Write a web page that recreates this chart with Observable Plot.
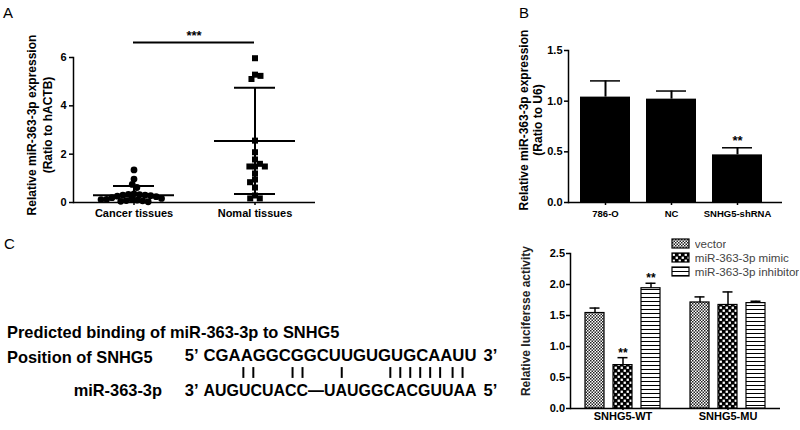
<!DOCTYPE html>
<html><head><meta charset="utf-8">
<script src="https://cdn.jsdelivr.net/npm/d3@7"></script>
<script src="https://cdn.jsdelivr.net/npm/@observablehq/plot@0.6"></script>
<style>
html,body{margin:0;padding:0;background:#fff;}
#root{position:relative;width:800px;height:430px;overflow:hidden;font-family:"Liberation Sans",Arial,sans-serif;color:#000;background:#fff;}
.abs{position:absolute;}
.abs svg{display:block;}
.plbl{position:absolute;font-size:15px;line-height:1;}
.ytitle{position:absolute;font-size:12px;font-weight:bold;white-space:nowrap;text-align:center;transform:translate(-50%,-50%) rotate(-90deg);}
.seqlbl{position:absolute;font-size:16.4px;font-weight:bold;line-height:1;white-space:nowrap;}
#legC, #legC *{font-family:"Liberation Sans",Arial,sans-serif !important;font-size:11.6px !important;color:#444;}
#legC svg rect{stroke:#000;stroke-width:1.2;}
#root svg g[aria-label$="tick"]{stroke-width:1.5;}
#root svg [aria-label="frame"]{stroke-width:1.5;}
</style></head>
<body>
<svg width="0" height="0" style="position:absolute">
  <defs>
    <pattern id="pat-vector" patternUnits="userSpaceOnUse" width="3" height="3">
      <rect width="3" height="3" fill="#fff"/>
      <rect width="1.5" height="1.5" fill="#222"/>
      <rect x="1.5" y="1.5" width="1.5" height="1.5" fill="#222"/>
    </pattern>
    <pattern id="pat-mimic" patternUnits="userSpaceOnUse" width="6" height="6">
      <rect width="6" height="6" fill="#000"/>
      <rect x="0.6" y="0.6" width="2.3" height="2.3" fill="#fff"/>
      <rect x="3.6" y="3.6" width="2.3" height="2.3" fill="#fff"/>
    </pattern>
    <pattern id="pat-inhibitor" patternUnits="userSpaceOnUse" width="4" height="4">
      <rect width="4" height="4" fill="#fff"/>
      <rect width="4" height="1" fill="#000"/>
    </pattern>
  </defs>
</svg>
<div id="root">
  <div class="plbl" style="left:3px;top:5px;">A</div>
  <div class="plbl" style="left:519px;top:5px;">B</div>
  <div class="plbl" style="left:4px;top:236px;">C</div>

  <div class="ytitle" style="left:40px;top:125px;line-height:16px;">Relative miR-363-3p expression<br>(Ratio to hACTB)</div>
  <div class="ytitle" style="left:531px;top:120px;line-height:14px;">Relative miR-363-3p expression<br>(Ratio to U6)</div>
  <div class="ytitle" style="left:526px;top:321px;line-height:14px;color:#222;">Relative lucifersse activity</div>

  <div class="seqlbl" style="left:7px;top:324px;">Predicted binding of miR-363-3p to SNHG5</div>
  <div class="seqlbl" style="left:7px;top:349px;">Position of SNHG5</div>
  <div class="seqlbl" style="right:638px;top:382px;">miR-363-3p</div>

  <div id="pA" class="abs" style="left:0;top:0;"></div>
  <div id="pAsig" class="abs" style="left:0;top:0;pointer-events:none;"></div>
  <div id="pB" class="abs" style="left:515px;top:30px;"></div>
  <div id="pC" class="abs" style="left:515px;top:225px;"></div>
  <div id="legC" class="abs" style="left:672px;top:237px;width:200px;"></div>
  <div id="pSeq" class="abs" style="left:0;top:320px;"></div>
</div>
<script>
// ---------- Panel A data ----------
const groupsA = ["Cancer tissues", "Nomal tissues"];
const cancerValues = [1.35, 0.97, 0.75, 0.62, 0.36, 0.34, 0.32, 0.30, 0.30, 0.28, 0.26, 0.24, 0.20, 0.17, 0.15, 0.13, 0.12, 0.10, 0.08, 0.07, 0.05, 0.03];
const normalValues = [5.97, 5.29, 5.11, 5.24, 2.56, 2.08, 1.78, 1.49, 1.49, 1.60, 1.49, 1.20, 0.95, 0.84, 0.62, 0.29, 0.17, 0.17];
const meansA = [0.30, 2.55];
const sdsA = [0.38, 2.20];
const yTicksA = [0, 2, 4, 6];
const sigA = {from: "Cancer tissues", to: "Nomal tissues", y: 6.62, label: "***"};

// ---------- Panel B data ----------
const catsB = ["786-O", "NC", "SNHG5-shRNA"];
const valuesB = [1.04, 1.02, 0.47];
const upperB = [1.20, 1.10, 0.54];
const sigB = ["", "", "**"];
const yTicksB = [0, 0.5, 1.0, 1.5];

// ---------- Panel C data ----------
const constructsC = ["SNHG5-WT", "SNHG5-MU"];
const treatmentsC = ["vector", "miR-363-3p mimic", "miR-363-3p inhibitor"];
const valuesWT = [1.54, 0.70, 1.94];
const upperWT = [1.62, 0.82, 2.02];
const sigWT = ["", "**", "**"];
const valuesMU = [1.71, 1.67, 1.70];
const upperMU = [1.80, 1.88, 1.73];
const sigMU = ["", "", ""];
const yTicksC = [0, 0.5, 1.0, 1.5, 2.0, 2.5];
const patternsC = ["url(#pat-vector)", "url(#pat-mimic)", "url(#pat-inhibitor)"];

// ---------- Sequence panel data ----------
const topSeq = "CGAAGGCGGCUUGUGUGCAAUU";
const bottomSeq = "AUGUCUACC\u2014UAUGGCACGUUAA";
const seqSlots = 22;
const pairPositions = [3.2, 4.0, 7.15, 7.95, 11.1, 15.0, 15.8, 16.6, 17.4, 18.2, 19.0, 20.0, 20.8];

const FONT = '"Liberation Sans", Arial, sans-serif';
const baseStyle = {fontFamily: FONT, fontSize: "11px", fontWeight: "bold", background: "none", overflow: "visible", color: "#000"};

// ---------- Panel A ----------
const pointsA = [
  ...cancerValues.map(v => ({group: groupsA[0], value: v})),
  ...normalValues.map(v => ({group: groupsA[1], value: v}))
];
const statsA = groupsA.map((g, i) => ({group: g, mean: meansA[i], upper: meansA[i] + sdsA[i], lower: meansA[i] - sdsA[i]}));

const plotA = Plot.plot({
  width: 330, height: 225,
  marginLeft: 72, marginRight: 15, marginTop: 57, marginBottom: 23,
  style: baseStyle,
  fx: {domain: groupsA, padding: 0, label: null, axis: "bottom", tickSize: 3, tickPadding: 4},
  y: {domain: [0, 6], ticks: yTicksA, tickFormat: d3.format("d"), tickSize: 4, tickPadding: 3, label: null, line: true},
  symbol: {domain: groupsA, range: ["circle", "square"]},
  marks: [
    Plot.ruleY([0], {strokeWidth: 1.5}),
    Plot.dot(pointsA, Plot.dodgeX({anchor: "middle", padding: -1.2}, {fx: "group", y: "value", r: 3.4, symbol: "group", fill: "#000"})),
    Plot.tickY(statsA, {fx: "group", y: "mean", insetLeft: 20, insetRight: 20, strokeWidth: 2}),
    Plot.tickY(statsA, {fx: "group", y: "upper", insetLeft: 40, insetRight: 40, strokeWidth: 2}),
    Plot.tickY(statsA.filter(d => d.lower > 0), {fx: "group", y: "lower", insetLeft: 40, insetRight: 40, strokeWidth: 2}),
    Plot.ruleX(statsA, {fx: "group", x: null, y1: d => Math.max(0, d.lower), y2: "upper", strokeWidth: 2})
  ]
});
document.getElementById("pA").appendChild(plotA);

const plotAsig = Plot.plot({
  width: 330, height: 225,
  marginLeft: 72, marginRight: 15, marginTop: 57, marginBottom: 23,
  style: baseStyle,
  x: {type: "point", domain: groupsA, padding: 0.5, axis: null},
  y: {domain: [0, 6], axis: null},
  marks: [
    Plot.ruleY([sigA], {x1: "from", x2: "to", y: "y", strokeWidth: 2}),
    Plot.text([sigA], {y: "y", text: "label", dy: -7, fontSize: 13})
  ]
});
document.getElementById("pAsig").appendChild(plotAsig);

// ---------- Panel B ----------
const dataB = catsB.map((c, i) => ({cat: c, value: valuesB[i], upper: upperB[i], sig: sigB[i]}));
const plotB = Plot.plot({
  width: 285, height: 195,
  marginLeft: 53, marginRight: 26, marginTop: 20, marginBottom: 23,
  style: baseStyle,
  x: {domain: catsB, paddingInner: 0.2424, paddingOuter: 0.1818},
  y: {domain: [0, 1.5]},
  marks: [
    Plot.barY(dataB, {x: "cat", y: "value", fill: "#000"}),
    Plot.ruleX(dataB, {x: "cat", y1: "value", y2: "upper", strokeWidth: 2}),
    Plot.tickY(dataB, {x: "cat", y: "upper", insetLeft: 10, insetRight: 10, strokeWidth: 2}),
    Plot.text(dataB.filter(d => d.sig), {x: "cat", y: "upper", text: "sig", dy: -7, fontSize: 13}),
    Plot.axisY({ticks: yTicksB, tickFormat: ".1f", tickSize: 4, tickPadding: 2, label: null, fontSize: 11}),
    Plot.axisX({tickSize: 3, tickPadding: 5, label: null, fontSize: 9.5}),
    Plot.frame({anchor: "left", strokeWidth: 1.5}),
    Plot.ruleY([0], {strokeWidth: 1.5, insetRight: -8})
  ]
});
document.getElementById("pB").appendChild(plotB);

// ---------- Panel C ----------
const dataC = [
  ...treatmentsC.map((t, i) => ({construct: constructsC[0], treatment: t, value: valuesWT[i], upper: upperWT[i], sig: sigWT[i]})),
  ...treatmentsC.map((t, i) => ({construct: constructsC[1], treatment: t, value: valuesMU[i], upper: upperMU[i], sig: sigMU[i]}))
];
const plotC = Plot.plot({
  width: 285, height: 205,
  marginLeft: 55, marginRight: 20, marginTop: 28, marginBottom: 22,
  style: baseStyle,
  fx: {domain: constructsC, padding: 0, label: null, axis: "bottom", tickSize: 2, tickPadding: 2},
  x: {domain: treatmentsC, paddingInner: 0.32, paddingOuter: 0.535, axis: null},
  y: {domain: [0, 2.5], ticks: yTicksC, tickFormat: d3.format(".1f"), tickSize: 4, tickPadding: 1.5, label: null, line: true},
  color: {domain: treatmentsC, range: patternsC},
  marks: [
    Plot.ruleY([0], {strokeWidth: 1.5}),
    Plot.barY(dataC, {fx: "construct", x: "treatment", y: "value", fill: "treatment", stroke: "#000", strokeWidth: 1.2}),
    Plot.ruleX(dataC, {fx: "construct", x: "treatment", y1: "value", y2: "upper", strokeWidth: 1.5}),
    Plot.tickY(dataC, {fx: "construct", x: "treatment", y: "upper", insetLeft: 4.5, insetRight: 4.5, strokeWidth: 1.5}),
    Plot.text(dataC.filter(d => d.sig), {fx: "construct", x: "treatment", y: "upper", text: "sig", dy: -5, fontSize: 12})
  ]
});
document.getElementById("pC").appendChild(plotC);

const legendC = Plot.legend({
  color: {domain: treatmentsC, range: patternsC},
  legend: "swatches", columns: 1, swatchWidth: 17, swatchHeight: 9
});
document.getElementById("legC").appendChild(legendC);

// ---------- Sequence panel ----------
const seqRows = [
  {row: 2, leftEnd: "5\u2019", seq: topSeq, rightEnd: "3\u2019", size: 17.2},
  {row: 0, leftEnd: "3\u2019", seq: bottomSeq, rightEnd: "5\u2019", size: 16.0}
];
const plotSeq = Plot.plot({
  width: 520, height: 90,
  marginLeft: 203, marginRight: 43, marginTop: 35, marginBottom: 20,
  style: {...baseStyle, fontSize: "16px"},
  x: {domain: [0, seqSlots], axis: null},
  y: {domain: [0, 2], axis: null},
  marks: [
    Plot.text(seqRows, {x: () => 0, y: "row", text: "leftEnd", textAnchor: "end", dx: -5, fontSize: 16.5}),
    Plot.text(seqRows, {x: () => 0, y: "row", text: "seq", textAnchor: "start", fontSize: "size"}),
    Plot.text(seqRows, {x: () => seqSlots, y: "row", text: "rightEnd", textAnchor: "start", dx: 6, fontSize: 16.5}),
    Plot.ruleX(pairPositions, {x: d => d, y1: () => 0.69, y2: () => 1.31, strokeWidth: 2})
  ]
});
const xs = plotSeq.scale("x");
const span = xs.apply(seqSlots) - xs.apply(0) - 1;
plotSeq.querySelectorAll("text").forEach(t => {
  if (t.textContent === topSeq || t.textContent === bottomSeq) {
    t.setAttribute("textLength", span);
    t.setAttribute("lengthAdjust", "spacingAndGlyphs");
  }
});
document.getElementById("pSeq").appendChild(plotSeq);
</script>
</body></html>
